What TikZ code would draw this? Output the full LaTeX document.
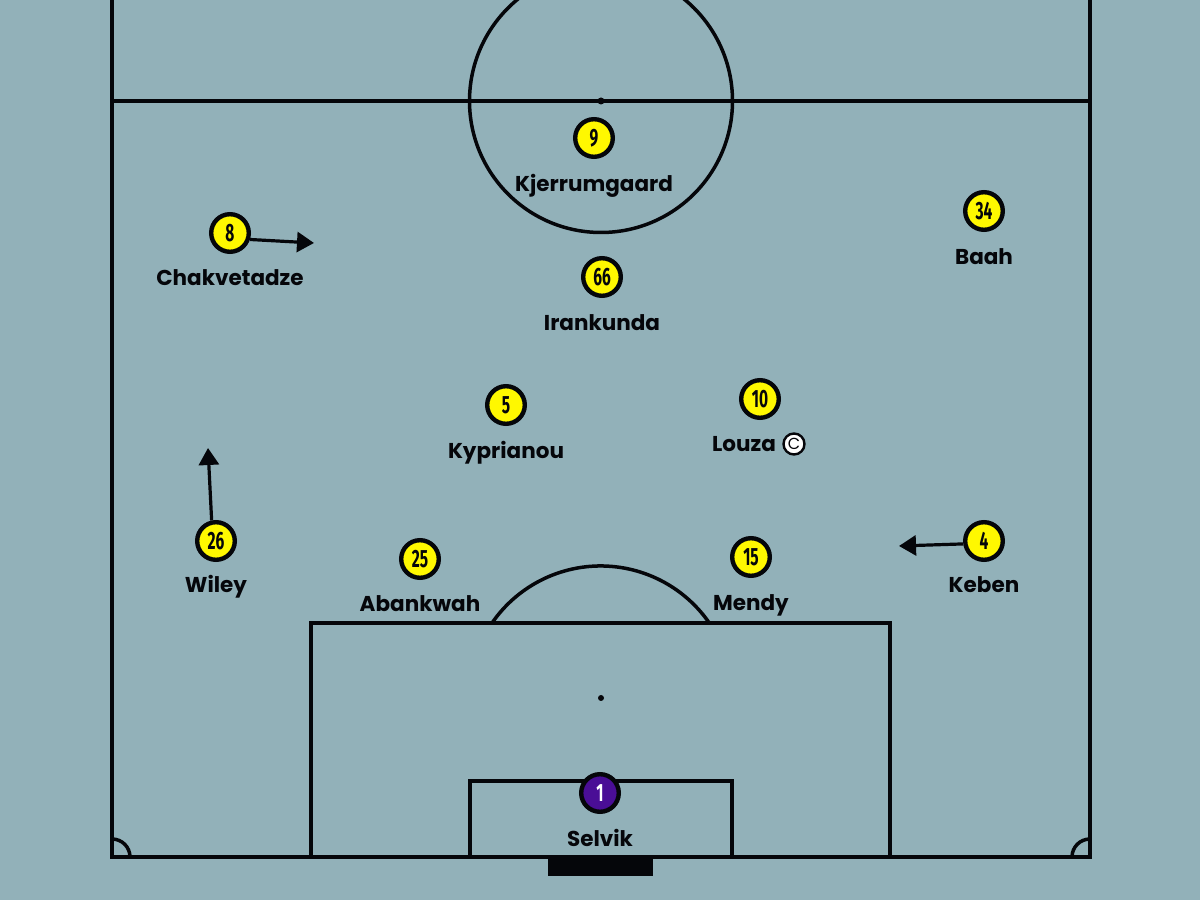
\documentclass[tikz,border=0pt]{standalone}
\usepackage{fontspec}
\usepackage{xcolor}
\usetikzlibrary{arrows.meta}
\setmainfont{Poppins}
\newfontfamily\numfont[FakeStretch=0.62]{Fira Sans}
\definecolor{pitchbg}{HTML}{92B1B9}
\definecolor{kityellow}{HTML}{FFF800}
\definecolor{keeperpurple}{HTML}{4A0E96}
\definecolor{inkblack}{HTML}{05060A}
\begin{document}
\begin{tikzpicture}[x=0.5pt,y=0.5pt,
  pitchline/.style={draw=inkblack,line width=1.75pt},
  player/.style={circle,draw=inkblack,line width=2.2pt,fill=kityellow,text=inkblack,minimum size=18.8pt,inner sep=0pt,font=\numfont\bfseries\fontsize{12.5}{13}\selectfont},
  keeper/.style={player,fill=keeperpurple,text=white},
  plname/.style={anchor=base,inner sep=0pt,text=inkblack,font=\bfseries\fontsize{10.75}{12}\selectfont},
  runarrow/.style={draw=inkblack,line width=1.6pt,-{Triangle[length=8.5pt,width=10pt]}}]
\useasboundingbox (0,0) rectangle (1200,900);
\clip (0,0) rectangle (1200,900);
\fill [pitchbg] (0,0) rectangle (1200,900);
% pitch
\draw [pitchline] (112,910) -- (112,43) -- (1090,43) -- (1090,910);
\draw [pitchline] (112,799) -- (1090,799);
\draw [pitchline] (601,799) circle (131.5);
\fill [inkblack] (601,799) circle (3.5);
\draw [pitchline] (311,43) -- (311,277) -- (890,277) -- (890,43);
\draw [pitchline] (470,43) -- (470,119) -- (732,119) -- (732,43);
\fill [inkblack] (601,202) circle (3);
\draw [pitchline] (492,277) arc (145.4:34.6:132);
\fill [inkblack] (548,43) rectangle (653,24);
\draw [pitchline] (130,43) arc (0:90:18);
\draw [pitchline] (1072,43) arc (180:90:18);
% players
\node [player] (kjerrum) at (594,762) {9};
\node [player] (irank) at (602,623) {66};
\node [player] (chakv) at (230,667) {8};
\node [player] (baah) at (984,689) {34};
\node [player] (kypr) at (506,495) {5};
\node [player] (louza) at (760,501) {10};
\node [player] (wiley) at (216,359) {26};
\node [player] (abank) at (420,341) {25};
\node [player] (mendy) at (751,343) {15};
\node [player] (keben) at (984,359) {4};
\node [keeper] (selvik) at (600,107) {1};
% names
\node [plname] (kjerrumname) at (594,708) {Kjerrumgaard};
\node [plname] (irankname) at (602,569) {Irankunda};
\node [plname] (chakvname) at (230,614) {Chakvetadze};
\node [plname] (baahname) at (984,635) {Baah};
\node [plname] (kyprname) at (506,441) {Kyprianou};
\node [plname] (louzaname) at (744,448) {Louza};
\node [plname] (wileyname) at (216,307) {Wiley};
\node [plname] (abankname) at (420,288) {Abankwah};
\node [plname] (mendyname) at (751,289) {Mendy};
\node [plname] (kebenname) at (984,307) {Keben};
\node [plname] (selvikname) at (600,54) {Selvik};
\node [circle,draw=inkblack,line width=1.2pt,fill=white,text=inkblack,minimum size=10.5pt,inner sep=0pt,font=\fontsize{8}{9}\selectfont] (captain) at (794,456) {C};
% runs
\coordinate (chakvrun) at (314,657);
\coordinate (wileyrun) at (208,452);
\coordinate (kebenrun) at (899,354);
\draw [runarrow] (chakv.-18) -- (chakvrun);
\draw [runarrow] (wiley.102) -- (wileyrun);
\draw [runarrow] (keben.188) -- (kebenrun);
\end{tikzpicture}
\end{document}
